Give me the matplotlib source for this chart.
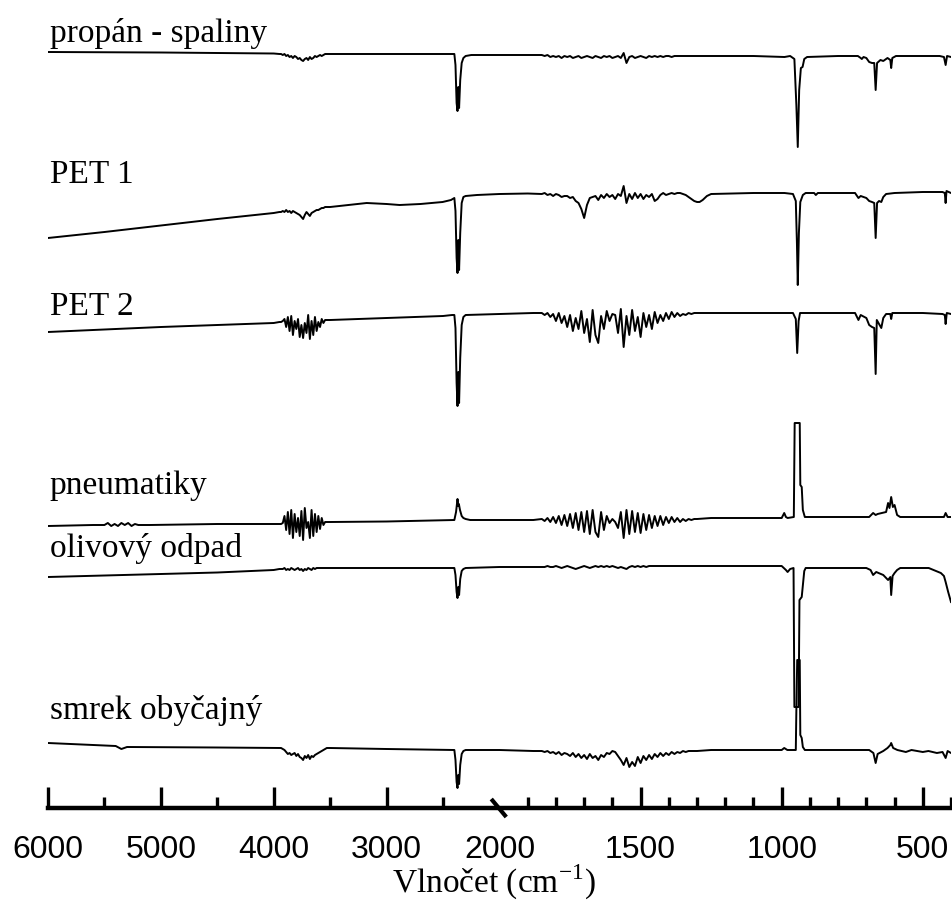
import numpy as np
import matplotlib
matplotlib.use("Agg")
import matplotlib.pyplot as plt

# wavenumber grids of the two noisy water-vapour bands (cm-1)
wn_band_a = [3950, 3935, 3920, 3905, 3890, 3875, 3860, 3845, 3830, 3815,
             3800, 3785, 3770, 3755, 3740, 3725, 3710, 3695, 3680, 3665,
             3650, 3635, 3620, 3605, 3590, 3575, 3560, 3545, 3530]
wn_band_b = [1850, 1840, 1830, 1820, 1810, 1800, 1790, 1780, 1770, 1760,
             1750, 1740, 1730, 1720, 1710, 1700, 1690, 1680, 1670, 1660,
             1650, 1640, 1630, 1620, 1610, 1600, 1590, 1580, 1570, 1560,
             1550, 1540, 1530, 1520, 1510, 1500, 1490, 1480, 1470, 1460,
             1450, 1440, 1430, 1420, 1410, 1400, 1390, 1380, 1370, 1360,
             1350, 1340, 1330, 1320, 1310, 1300]

labels = ["propán - spaliny", "PET 1", "PET 2", "pneumatiky",
          "olivový odpad", "smrek obyčajný"]
offsets = [753, 615, 495, 288, 241, 58]
label_y = [766, 625, 493, 314, 251, 89]

# (wavenumber, signal) outside the noisy bands
propan_pts = [(6000, 3), (5000, 2.5), (4000, 1.5), (3500, 1), (2420, 1), (2400, 1),
              (2390, -10), (2380, -48), (2372, -56), (2365, -32), (2358, -53),
              (2348, -25), (2335, -8), (2320, -3), (2300, -1), (2250, 0), (2000, 0),
              (1900, 0), (1250, -1), (1100, -1), (990, -2), (970, -1), (955, -4),
              (948, -50), (943, -92), (938, -35), (932, -13), (926, -12), (920, -4),
              (910, -2), (800, -1), (730, -1), (720, -3), (716, -4), (710, -2),
              (700, -3), (690, -7), (680, -8), (672, -8), (667, -35), (662, -8),
              (650, -5), (640, -6), (625, -3), (615, -5), (612, -13), (608, -3),
              (595, -1), (500, -1), (440, -1), (425, -2), (419, -10), (414, -1),
              (400, -2)]
pet1_pts = [(6000, -45), (5500, -39), (5000, -32.5), (4500, -26), (4000, -20),
            (3500, -14), (3177, -10), (3000, -11), (2885, -12), (2700, -11),
            (2504, -9), (2430, -7), (2400, -5), (2390, -18), (2380, -65),
            (2372, -80), (2365, -47), (2358, -77), (2348, -40), (2335, -10),
            (2320, -4), (2300, -3), (2200, -2), (2000, -1), (1900, -0.5),
            (1291, -9), (1280, -7), (1265, -3), (1250, -1), (1100, 0), (990, 0),
            (960, -1), (950, -8), (946, -50), (943, -92), (939, -40), (934, -9),
            (925, -2), (915, 0), (885, 0), (879, -2), (872, 0), (740, 0),
            (728, -5), (720, -3), (700, -5), (690, -8), (680, -9), (672, -10),
            (667, -45), (662, -10), (655, -8), (647, -9), (640, -4), (630, -1),
            (600, 0), (500, 1), (430, 1), (422, 0), (419, -10), (416, 2), (400, 0)]
pet2_pts = [(6000, -19), (5000, -14), (4500, -12), (4000, -10), (3500, -7),
            (3000, -5), (2500, -3), (2420, -2), (2400, -2), (2390, -15),
            (2380, -70), (2372, -93), (2365, -59), (2358, -90), (2348, -45),
            (2335, -12), (2320, -4), (2300, -2), (2000, -1), (1880, 0),
            (1250, 0), (1000, 0), (960, 0), (950, -6), (945, -40), (940, -8),
            (935, 0), (900, 0), (740, 0), (728, -7), (720, -2), (700, -5),
            (690, -12), (680, -14), (672, -15), (667, -61), (663, -7), (655, -11),
            (647, -15), (640, -5), (630, -1), (615, -1), (612, -6), (608, 0),
            (500, 0), (430, -1), (422, -2), (419, -11), (415, 0), (400, -1)]
pneu_pts = [(6000, -6), (5600, -5), (5500, -5), (5470, -3), (5440, -6), (5410, -4),
            (5380, -6), (5350, -3), (5320, -5), (5290, -3), (5260, -6), (5230, -4),
            (5200, -5), (5100, -5), (4500, -4), (4000, -4), (3500, -2), (3000, -1.5),
            (2420, 0), (2400, 0), (2385, 8), (2372, 21), (2365, 14), (2360, 16),
            (2350, 10), (2335, 4), (2320, 2), (2300, 1), (2260, 0), (2000, 0),
            (1880, 0), (1250, 2), (1100, 2), (1000, 2), (991, 7), (985, 3),
            (979, 2), (957, 3), (954, 97), (936, 97), (934, 35), (929, 33),
            (925, 10), (918, 3), (900, 3), (690, 3), (676, 7), (667, 5), (660, 6),
            (630, 8), (623, 17), (618, 12), (612, 23), (606, 13), (600, 15),
            (591, 5), (580, 3), (450, 3), (425, 3), (419, 7), (412, 3), (400, 3)]
oliv_pts = [(6000, -10), (5000, -7), (4500, -5.5), (4000, -3), (3500, -1),
            (2420, -1), (2400, -1), (2390, -8), (2380, -25), (2372, -31),
            (2365, -20), (2358, -28), (2348, -12), (2335, -4), (2320, -2),
            (2300, -1), (2000, 0), (1880, 0), (1250, 1), (1100, 1), (1000, 1),
            (985, -3), (979, -5), (970, -2), (958, -1), (955, -140), (940, -140),
            (937, -33), (929, -30), (920, -4), (915, -1), (900, -1), (700, -1),
            (685, -3), (676, -8), (665, -5), (640, -8), (623, -13), (615, -10),
            (612, -28), (607, -9), (600, -6), (591, -3), (580, -1), (479, -1),
            (436, -6), (425, -9), (419, -15), (410, -25), (400, -35)]
smrek_pts = [(6000, 7), (5500, 4.5), (5400, 4), (5350, 1), (5300, 3), (4500, 2.5),
             (4000, 2), (3500, 2), (3000, 1), (2420, 0), (2400, 0), (2390, -10),
             (2380, -32), (2372, -38), (2365, -25), (2358, -34), (2348, -15),
             (2335, -4), (2320, -1), (2300, 0), (2000, 0), (1880, -1), (1250, 0),
             (1000, 0), (991, 2), (980, 0), (950, 0), (948, 40), (945, 90),
             (936, 90), (934, 15), (929, 12), (925, 3), (918, 0), (690, 0),
             (675, -3), (667, -13), (660, -4), (640, -1), (625, 2), (615, 5),
             (612, 7), (605, 2), (590, 0), (560, -2), (540, 0), (500, -2),
             (480, -1), (450, -3), (430, -2), (419, -8), (412, -1), (400, -3)]

# signal on wn_band_a
propan_a = [1, 1, 0, 1, -1, 0, -2, -1, -3, -1, -2, -4, -3, -5, -6, -4, -3, -5, -2, -4,
            -3, -1, -2, -1, 0, -1, 0, 1, 1]
pet1_a = [-19, -19, -18, -19, -17, -19, -18, -20, -18, -19, -20, -21, -22, -24, -26,
          -22, -19, -21, -23, -20, -19, -18, -17, -17, -16, -15, -15, -14, -14]
pet2_a = [-9, -9, -8, -6, -14, -4, -18, -3, -22, -8, -16, -6, -24, -12, -25, -10, -20,
          -2, -26, -8, -22, -4, -18, -9, -14, -6, -10, -7, -7]
pneu_a = [-4, -4, -3, 4, -10, 8, -14, 10, -18, 6, -12, 2, -16, 9, -20, 12, -8, -2, -18,
          10, -16, 6, -12, 4, -9, 2, -5, -2, -2]
oliv_a = [-2, -2, -2, -1, -3, -2, -3, -1, -2, -3, -2, -1, -3, -2, -4, -2, -3, -1, -2, -3,
          -1, -2, -1, -1, -1, -1, -1, -1, -1]
smrek_a = [2, 2, 1, 0, -2, -4, -3, -5, -4, -3, -6, -4, -7, -8, -10, -6, -8, -5, -9, -6,
           -7, -5, -4, -3, -2, -1, 0, 1, 2]

# signal on wn_band_b
propan_b = [0, -1, 0, -2, -1, -2, -1, -3, -1, -2, -1, -3, -2, -1, -3, -2, -1, -2, -3, -1,
            -2, -3, -1, -2, -1, -3, -2, -1, -3, 2, -8, -2, -1, -3, -2, -1, -2, -3, -1, -2,
            -1, -2, -1, -2, -1, -1, -2, -1, -1, -1, -1, -1, -1, -1, -1, -1]
pet1_b = [-1, 0, -2, -1, -3, -1, -2, -4, -3, -3, -5, -4, -8, -10, -16, -25, -12, -5, -4, -3,
          -7, -2, -5, -1, -4, -2, -6, -1, -3, 7, -10, -1, -6, 0, -5, -1, -6, -2, -4, -1,
          -8, -6, -2, 0, -2, -1, 0, -1, 0, 0, -1, -2, -4, -6, -8, -9]
pet2_b = [0, -2, 0, -4, -1, -8, 0, -10, -3, -14, -2, -18, -5, -16, 2, -20, -6, -29, 3, -22,
          -30, -3, -16, 2, -8, -1, -2, -20, 4, -34, -3, -22, 3, -18, -4, -24, 0, -14, -2, -16,
          1, -10, -2, -8, 0, -6, 1, -4, 0, -3, -1, -2, 0, -1, 0, 0]
pneu_b = [1, -1, 2, -2, 3, -3, 4, -5, 5, -6, 6, -8, 7, -10, 8, -12, 9, -14, 10, -12,
          -17, 8, -10, 4, -3, 1, -2, -8, 8, -18, 10, -14, 9, -12, 7, -13, 6, -10, 5, -8,
          4, -6, 4, -5, 3, -3, 3, -2, 2, -2, 1, -1, 1, 0, 1, 1]
oliv_b = [0, 0, 1, 0, 0, 1, 0, -1, 0, 1, 0, -1, -2, -1, 0, 1, 0, -1, 0, 1,
          0, 1, 0, 1, 0, 1, 0, -1, 0, -1, -2, 0, 1, 0, 1, 0, 1, 0, 1, 1,
          1, 1, 1, 1, 1, 1, 1, 1, 1, 1, 1, 1, 1, 1, 1, 1]
smrek_b = [-1, -2, -1, -3, -2, -4, -2, -5, -3, -4, -6, -3, -7, -4, -8, -5, -9, -4, -8, -6,
           -10, -5, -7, -3, -4, -1, -2, -6, -10, -15, -8, -17, -12, -16, -7, -13, -6, -10, -5, -9,
           -4, -7, -3, -6, -3, -5, -2, -4, -2, -3, -1, -2, -1, -1, -1, -1]

spectra = [(propan_pts, propan_a, propan_b), (pet1_pts, pet1_a, pet1_b),
           (pet2_pts, pet2_a, pet2_b), (pneu_pts, pneu_a, pneu_b),
           (oliv_pts, oliv_a, oliv_b), (smrek_pts, smrek_a, smrek_b)]


def build(points, band_a, band_b):
    assert len(band_a) == len(wn_band_a) and len(band_b) == len(wn_band_b)
    wn = np.array([p[0] for p in points] + wn_band_a + wn_band_b, float)
    val = np.array([p[1] for p in points] + band_a + band_b, float)
    order = np.argsort(wn)[::-1]
    return wn[order], val[order]


# broken axis: 6000-2000 and 2000-400 get the same width
def fwd(x):
    x = np.asarray(x, float)
    return np.where(x >= 2000, (x - 2000) / 4000, (x - 2000) / 1600)


def inv(u):
    u = np.asarray(u, float)
    return np.where(u >= 0, 2000 + 4000 * u, 2000 + 1600 * u)


plt.rcParams["font.family"] = "Liberation Sans"
plt.rcParams["mathtext.fontset"] = "custom"
plt.rcParams["mathtext.rm"] = "Liberation Serif"

fig = plt.figure(figsize=(9.53, 9.02), dpi=100)
ax = fig.add_axes([48 / 953, 94 / 902, 903 / 953, 808 / 902])
ax.set_xscale("function", functions=(fwd, inv))

for (pts, a, b), off in zip(spectra, offsets):
    wn, val = build(pts, a, b)
    ax.plot(wn, off + val, color="black", lw=1.4)

for name, ly in zip(labels, label_y):
    ax.text(5985, ly, name, family="Liberation Serif", fontsize=24, va="baseline", ha="left")

ax.set_xlim(6000, 400)
ax.set_ylim(0, 808)
ax.set_yticks([])
for side in ["top", "left", "right"]:
    ax.spines[side].set_visible(False)
ax.spines["bottom"].set_linewidth(3.2)

ax.set_xticks([6000, 5000, 4000, 3000, 2000, 1500, 1000, 500])
ax.set_xticklabels(["6000", "5000", "4000", "3000", "2000", "1500", "1000", "500"])
ax.set_xticks([5500, 4500, 3500, 2500, 1900, 1800, 1700, 1600, 1400, 1300, 1200, 1100,
               900, 800, 700, 600, 400], minor=True)
ax.tick_params(axis="x", which="major", direction="in", length=15, width=2.4,
               pad=19.5, labelsize=23)
ax.tick_params(axis="x", which="minor", direction="in", length=8, width=2.4)
ax.xaxis.get_major_ticks()[4].tick1line.set_visible(False)

# break mark at 2000
ax.plot([2073, 1976], [9, -9], color="black", lw=3, clip_on=False,
        solid_capstyle="butt")

fig.text(0.518, 1 - 893 / 902, "Vlnočet (cm$^{-1}$)", family="Liberation Serif",
         fontsize=24, ha="center", va="baseline")

fig.savefig("out.png", dpi=100)
